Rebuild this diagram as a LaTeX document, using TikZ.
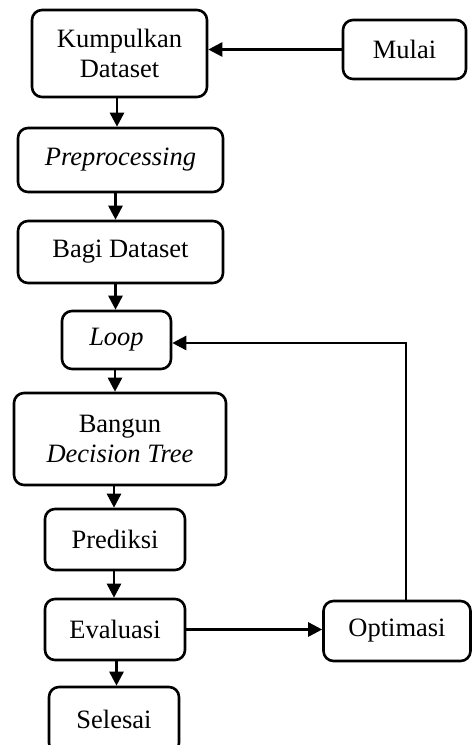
\documentclass[tikz,border=0pt]{standalone}
\usepackage{fontspec}
\setmainfont{Liberation Serif}
\usetikzlibrary{arrows.meta,calc}
\begin{document}
\begin{tikzpicture}[x=1bp,y=-1bp,
  box/.style={draw, line width=2.6bp, rounded corners=10bp, align=center, inner sep=0pt,
    font=\fontsize{26.5bp}{30bp}\selectfont},
  arr/.style={line width=2.6bp, -{Triangle[length=14bp,width=14bp]}},
  ln/.style={line width=2.6bp}]
\useasboundingbox (0,0) rectangle (472,745);
\node[box, minimum width=175bp, minimum height=87bp] (kd) at (119.5,53.5) {Kumpulkan\\Dataset};
\node[box, minimum width=123bp, minimum height=59bp] (mulai) at (404.5,49.5) {Mulai};
\node[box, minimum width=205bp, minimum height=64bp] (pre) at (120.5,160) {\itshape Preprocessing};
\node[box, minimum width=205bp, minimum height=62bp] (bagi) at (120.5,252) {Bagi Dataset};
\node[box, minimum width=109bp, minimum height=58bp] (loop) at (116.5,340) {\itshape Loop};
\node[box, minimum width=212bp, minimum height=92bp] (bangun) at (120,439) {Bangun\\\itshape Decision Tree};
\node[box, minimum width=140bp, minimum height=61bp] (pred) at (115,539.5) {Prediksi};
\node[box, minimum width=140bp, minimum height=61bp] (eval) at (115,629.5) {Evaluasi};
\node[box, minimum width=147bp, minimum height=60bp] (opt) at (397,631) {Optimasi};
\node[box, minimum width=130bp, minimum height=66bp] (sel) at (114,720) {\raisebox{2bp}{Selesai}};
\draw[arr] (mulai.west) -- (mulai.west -| kd.east);
\draw[arr] ([xshift=-2.5bp]kd.south) -- ([xshift=-2.5bp]kd.south |- pre.north);
\draw[arr] ([xshift=-5bp]pre.south) -- ([xshift=-5bp]pre.south |- bagi.north);
\draw[arr] ([xshift=-5bp]bagi.south) -- ([xshift=-5bp]bagi.south |- loop.north);
\draw[arr] ([xshift=-1.5bp]loop.south) -- ([xshift=-1.5bp]loop.south |- bangun.north);
\draw[arr] ([xshift=-6bp]bangun.south) -- ([xshift=-6bp]bangun.south |- pred.north);
\draw[arr] ([xshift=-1bp]pred.south) -- ([xshift=-1bp]pred.south |- eval.north);
\draw[arr] ([xshift=1.5bp]eval.south) -- ([xshift=1.5bp]eval.south |- sel.north);
\draw[arr] (eval.east) -- (eval.east -| opt.west);
\draw[arr] ([xshift=9bp]opt.north) |- ([yshift=-3bp]loop.east);
\end{tikzpicture}
\end{document}
